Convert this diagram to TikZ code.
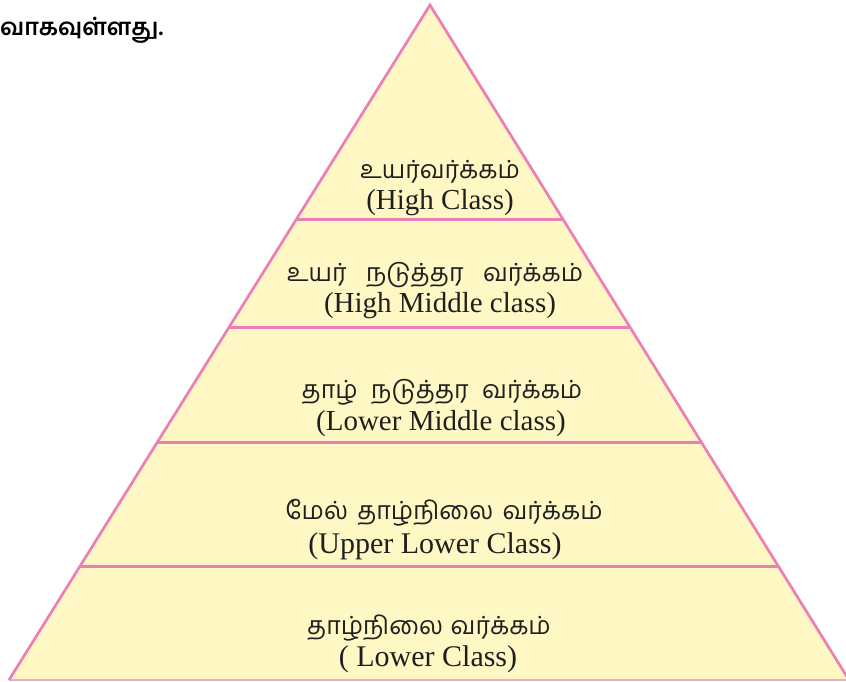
\documentclass[tikz,border=0pt]{standalone}
\usepackage{fontspec}
\setmainfont{Liberation Serif}
\newfontfamily\tamilfont[Script=Tamil]{Hind Madurai}
\newfontfamily\tamilbold[Script=Tamil]{Hind Madurai SemiBold}
\definecolor{pyrfill}{RGB}{255,248,196}
\definecolor{pyrline}{RGB}{236,128,182}
\definecolor{pyrbase}{RGB}{244,170,205}
\begin{document}
\begin{tikzpicture}[x=1pt,y=-1pt,
  tier/.style={pyrline,line width=3pt},
  en/.style={font=\fontsize{29}{29}\selectfont,inner sep=0pt,text=black!88},
  enb/.style={font=\fontsize{30}{30}\selectfont,inner sep=0pt,text=black!88},
  ta/.style={font=\tamilfont\fontsize{25}{25}\selectfont,inner sep=0pt,text=black!88,
    text height=13pt,text depth=3pt}]
\useasboundingbox (0,0) rectangle (846,681);
\coordinate (apex) at (430,5);
\coordinate (bl) at (9,680);
\coordinate (br) at (849,680);
\fill[pyrfill] (apex) -- (bl) -- (br) -- cycle;
\begin{scope}
\clip (apex) -- (bl) -- (br) -- cycle;
\draw[tier] (0,219.5) -- (567,219.5);
\draw[tier] (0,327) -- (846,327);
\draw[tier] (0,442) -- (846,442);
\draw[tier] (0,566) -- (846,566);
\end{scope}
\draw[pyrbase,line width=1.5pt] (bl) -- (br);
\draw[pyrline,line width=2.7pt,line join=miter] (bl) -- (apex) -- (br);
% texts
\node[ta] (t1) at (440,173) {உயர்வர்க்கம்};
\node[en] (e1) at (440,203) {(High Class)};
\node[ta] (t2) at (435,276.5) {உயர்\hspace{0.78em}நடுத்தர\hspace{0.78em}வர்க்கம்};
\node[en] (e2) at (440,306) {(High Middle class)};
\node[ta] (t3) at (442,393) {தாழ்\hspace{0.54em}நடுத்தர\hspace{0.54em}வர்க்கம்};
\node[en] (e3) at (441,424) {(Lower Middle class)};
\node[ta] (t4) at (444,514) {மேல்\hspace{0.37em}தாழ்நிலை\hspace{0.37em}வர்க்கம்};
\node[enb] (e4) at (435,546) {(Upper Lower Class)};
\node[ta] (t5) at (429,629) {தாழ்நிலை\hspace{0.3em}வர்க்கம்};
\node[enb] (e5) at (428,659) {( Lower Class)};
\node[font=\tamilbold\fontsize{23.5}{23.5}\selectfont,inner sep=0pt,anchor=west] (top) at (0,30) {வாகவுள்ளது.};
\end{tikzpicture}
\end{document}
